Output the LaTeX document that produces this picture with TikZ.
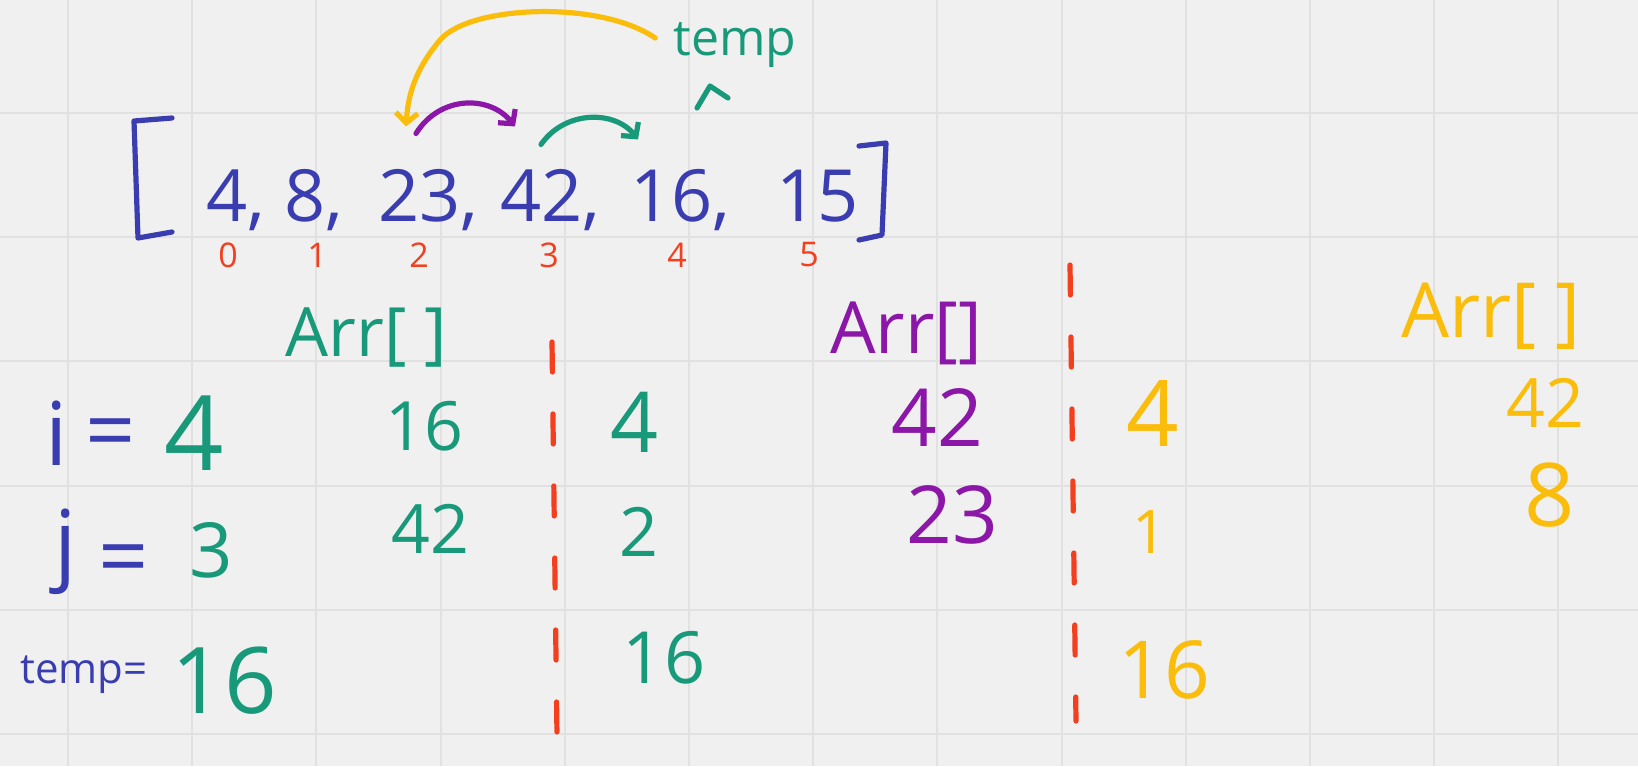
\documentclass[tikz,border=0pt]{standalone}
\usepackage{fontspec}
\setmainfont{Open Sans}
\usetikzlibrary{arrows.meta}
\definecolor{board}{HTML}{F0F0F0}
\definecolor{gridline}{HTML}{E1E1E1}
\definecolor{penblue}{HTML}{3A3DAF}
\definecolor{pengreen}{HTML}{17997A}
\definecolor{penred}{HTML}{F33F1E}
\definecolor{penpurple}{HTML}{8B16A8}
\definecolor{penyellow}{HTML}{FBBD0C}
\tikzset{
  ink/.style={line width=2.6pt, line cap=round, line join=round},
  hw/.style={font=\fontsize{#1}{#1}\selectfont, inner sep=0pt},
  cell/.style={hw=36, penblue, anchor=base west},
  swap/.style={ink, -{Straight Barb[length=5pt,width=11pt]}},
  cut/.style={ink, penred, dash pattern=on 15pt off 21pt}
}
\begin{document}
\begin{tikzpicture}[x=0.5pt, y=-0.5pt]
    \fill[board] (0,0) rectangle (1638,766);
    \useasboundingbox (0,0) rectangle (1638,766);
    \foreach \x in {68,192.2,...,1638} \draw[gridline, line width=1pt] (\x,0) -- (\x,766);
    \foreach \y in {113,237.2,...,766} \draw[gridline, line width=1pt] (0,\y) -- (1638,\y);

    % the array
    \draw[ink, penblue] (172,118) -- (134,121) -- (138,238) -- (172,232);
    \draw[ink, penblue] (859,146) -- (886,143) -- (882,235) -- (859,240);
    \node[cell] (arr4) at (206,221) {4,};
    \node[cell] (arr8) at (284,221) {8,};
    \node[cell] (arr23) at (378,221) {23,};
    \node[cell] (arr42) at (500,221) {42,};
    \node[cell] (arr16) at (630,221) {16,};
    \node[cell] (arr15) at (776,221) {15};
    \foreach \x/\i in {228/0, 317/1, 419/2, 549/3, 677/4, 809/5} \node[hw=17, penred] (idx\i) at (\x,255) {\i};

    \node[hw=25, pengreen] (tmp) at (735,45) {temp};
    \draw[ink, pengreen] (697,108) -- (710,86) -- (728,98);

    \draw[swap, penyellow] ([shift={(-18,-7)}]tmp.west) .. controls (600,0) and (470,5) .. (440,40) .. controls (415,70) and (408,95) .. ([shift={(28,-42)}]arr23.north west);
    \draw[swap, penpurple] ([shift={(38,-35)}]arr23.north west) .. controls (440,95) and (490,95) .. ([shift={(15,-42)}]arr42.north west);
    \draw[swap, pengreen] ([shift={(41,-24)}]arr42.north west) .. controls (565,110) and (615,110) .. ([shift={(8,-29)}]arr16.north west);

    % first pass
    \node[hw=34, pengreen] (arrA) at (366,338) {Arr[~]};
    \node[hw=44, penblue] (iname) at (57,433) {i};
    \node[hw=44, penblue] (ieq) at (111,440) {=};
    \node[hw=52, pengreen] (ival) at (194,433) {4};
    \node[hw=44, penblue] (jname) at (66,552) {j};
    \node[hw=44, penblue] (jeq) at (124,566) {=};
    \node[hw=38, pengreen] (jval) at (211,550) {3};
    \node[hw=21, penblue] (tname) at (84,675) {temp=};
    \node[hw=46, pengreen] (tval) at (224,681) {16};
    \node[hw=34, pengreen] (a1) at (424,426) {16};
    \node[hw=34, pengreen] (a2) at (430,529) {42};
    \draw[cut] (552,342) -- (557,736);
    \node[hw=42, pengreen] (b1) at (635,422) {4};
    \node[hw=34, pengreen] (b2) at (639,532) {2};
    \node[hw=36, pengreen] (b3) at (664,658) {16};

    % second pass
    \node[hw=36, penpurple] (arrB) at (906,333) {Arr[]};
    \node[hw=40, penpurple] (c1) at (937,418) {42};
    \node[hw=40, penpurple] (c2) at (952,515) {23};
    \draw[cut] (1070,265) -- (1076,721);
    \node[hw=46, penyellow] (d1) at (1153,413) {4};
    \node[hw=30, penyellow] (d2) at (1150,532) {1};
    \node[hw=40, penyellow] (d3) at (1164,670) {16};

    % third pass
    \node[hw=38, penyellow] (arrC) at (1491,316) {Arr[~]};
    \node[hw=34, penyellow] (e1) at (1545,403) {42};
    \node[hw=44, penyellow] (e2) at (1550,495) {8};
\end{tikzpicture}
\end{document}
